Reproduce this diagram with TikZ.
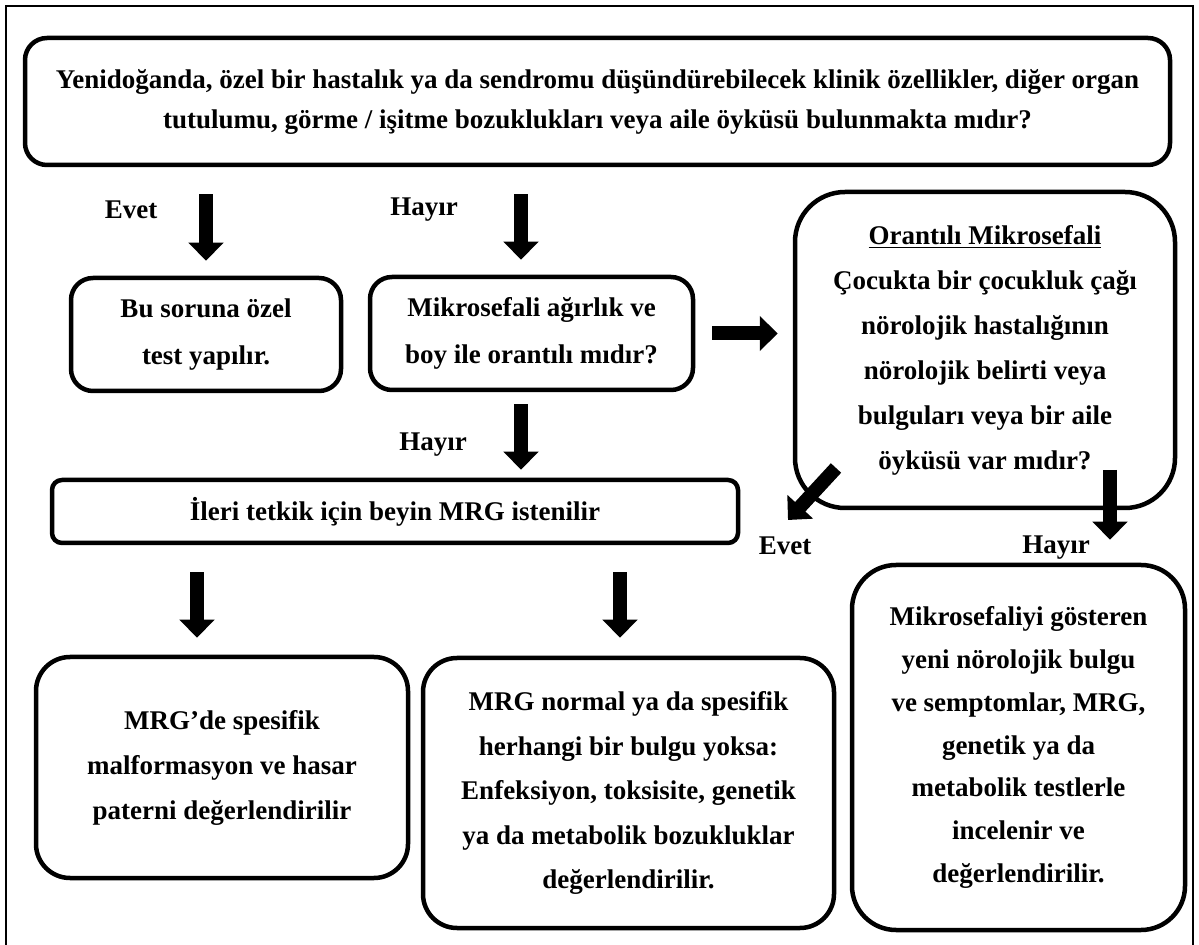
\documentclass[tikz,border=0pt]{standalone}
\usepackage{fontspec}
\setmainfont{Liberation Serif}
\usetikzlibrary{arrows.meta}

\tikzset{
  kutu/.style={draw, line width=2.25pt, align=center, inner sep=0pt},
  ok/.style={line width=7pt, -{Triangle[length=9pt,width=17pt]}},
  etiket/.style={font=\bfseries\fontsize{13.5}{16}\selectfont}
}

\begin{document}
\begin{tikzpicture}[x=0.5pt,y=-0.5pt]
	\useasboundingbox (0,0) rectangle (1199,945);
	\draw[line width=1pt] (6,945) -- (6,6) -- (1193,6) -- (1193,945);
	
	% ust soru
	\node[kutu, rounded corners=11pt, minimum width=572.5pt, minimum height=63.5pt,
	font=\bfseries\fontsize{13.5}{20}\selectfont] (soru) at (597.5,101.5)
	{Yenidoğanda, özel bir hastalık ya da sendromu düşündürebilecek klinik özellikler, diğer organ\\
	tutulumu, görme / işitme bozuklukları veya aile öyküsü bulunmakta mıdır?};
	
	\node[kutu, rounded corners=11pt, minimum width=135pt, minimum height=56.5pt,
	font=\bfseries\fontsize{13.5}{23.5}\selectfont] (ozel) at (206,334.5)
	{Bu soruna özel\\ test yapılır.};
	
	\node[kutu, rounded corners=11pt, minimum width=161.5pt, minimum height=56.5pt,
	font=\bfseries\fontsize{13.5}{23.5}\selectfont] (orantili) at (531.5,333.5)
	{Mikrosefali ağırlık ve\\ boy ile orantılı mıdır?};
	
	\node[kutu, rounded corners=25pt, minimum width=190pt, minimum height=158pt,
	font=\bfseries\fontsize{13.5}{22.5}\selectfont] (omikro) at (985,350)
	{\underline{Orantılı Mikrosefali}\\ Çocukta bir çocukluk çağı\\ nörolojik hastalığının\\
	nörolojik belirti veya\\ bulguları veya bir aile\\ öyküsü var mıdır?};
	
	\node[kutu, rounded corners=5pt, minimum width=343pt, minimum height=31.5pt,
	font=\bfseries\fontsize{13.5}{16}\selectfont] (mrg) at (395,511.5)
	{İleri tetkik için beyin MRG istenilir};
	
	% alt kutular
	\node[kutu, rounded corners=17pt, minimum width=186pt, minimum height=110.5pt,
	font=\bfseries\fontsize{13.5}{22.5}\selectfont] (malform) at (222,767.5)
	{MRG’de spesifik\\ malformasyon ve hasar\\ paterni değerlendirilir};
	
	\node[kutu, rounded corners=17pt, minimum width=205.5pt, minimum height=135pt,
	font=\bfseries\fontsize{13.5}{22.25}\selectfont] (normal) at (628.5,793)
	{MRG normal ya da spesifik\\ herhangi bir bulgu yoksa:\\ Enfeksiyon, toksisite, genetik\\
	ya da metabolik bozukluklar\\ değerlendirilir.};
	
	\node[kutu, rounded corners=22pt, minimum width=166.5pt, minimum height=182.5pt,
	font=\bfseries\fontsize{13.5}{21.4}\selectfont] (yeni) at (1018.5,747.5)
	{Mikrosefaliyi gösteren\\ yeni nörolojik bulgu\\ ve semptomlar, MRG,\\ genetik ya da\\
	metabolik testlerle\\ incelenir ve\\ değerlendirilir.};
	
	% etiketler
	\node[etiket] (evet1) at (131,210) {Evet};
	\node[etiket] (hayir1) at (424,210) {Hayır};
	\node[etiket] (hayir2) at (433,445) {Hayır};
	\node[etiket] (evet2) at (785,546) {Evet};
	\node[etiket] (hayir3) at (1056,548) {Hayır};
	
	% oklar
	\coordinate (h1) at (521,0);
	\coordinate (s1) at (197,0);
	\coordinate (s2) at (620,0);
	\coordinate (d1) at (836,468);
	\coordinate (d2) at (788,520);
	\coordinate (r1) at (1110,470);
	
	\draw[ok, shorten <=13.5pt, shorten >=7.5pt] (soru.south -| ozel) -- (ozel.north);
	\draw[ok, shorten <=13.5pt, shorten >=7.5pt] (soru.south -| h1) -- (orantili.north -| h1);
	\draw[ok, shorten <=8.5pt, shorten >=7.5pt] (orantili.east) -- (orantili.east -| omikro.west);
	\draw[ok, shorten <=6pt, shorten >=4pt] (orantili.south -| h1) -- (mrg.north -| h1);
	\draw[ok, shorten <=13.5pt, shorten >=8.5pt] (mrg.south -| s1) -- (malform.north -| s1);
	\draw[ok, shorten <=13.5pt, shorten >=9pt] (mrg.south -| s2) -- (normal.north -| s2);
	\draw[ok] (d1) -- (d2);
	\draw[ok, shorten >=11.5pt] (r1) -- (r1 |- yeni.north);
	
\end{tikzpicture}
\end{document}
